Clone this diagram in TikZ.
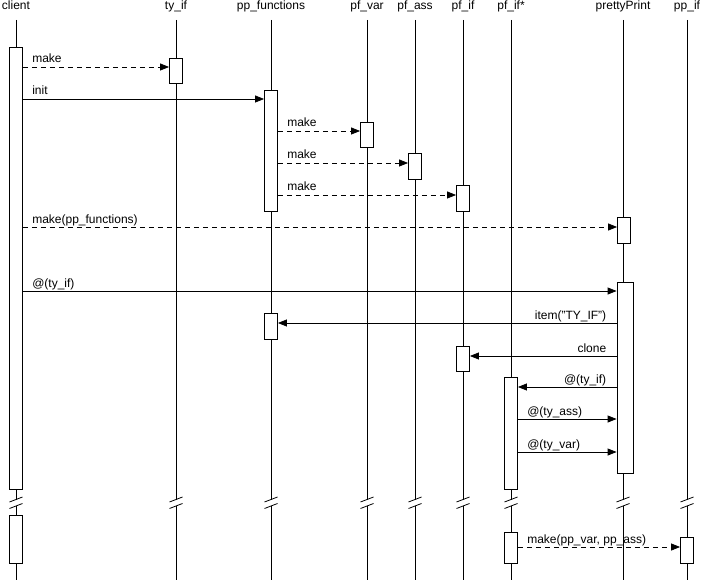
\documentclass[tikz,border=0pt]{standalone}
\usepackage{fontspec}
\setmainfont{Liberation Sans}
\usetikzlibrary{arrows.meta}
\begin{document}
\begin{tikzpicture}[x=1pt,y=-1pt,line width=.8pt,font=\fontsize{12}{14}\selectfont,
	act/.style={draw,fill=white,minimum width=13pt,inner sep=0pt,anchor=north},
	msg/.style={-{Triangle[length=9pt,width=7pt]}},
	async/.style={msg,dash pattern=on 5pt off 4pt},
	lbl/.style={pos=0,anchor=base west,xshift=9pt,yshift=4pt,inner sep=0pt},
	rlbl/.style={pos=0,anchor=base east,xshift=-10pt,yshift=4pt,inner sep=0pt}]
\useasboundingbox (0,0) rectangle (701,580);
% objects
\path[every node/.style={anchor=base,inner sep=0pt}]
	(16,9.5)node(client){client}
	(176,9.5)node(tyif){ty\_if}
	(271,9.5)node(ppfun){pp\_functions}
	(367,9.5)node(pfvar){pf\_var}
	(415,9.5)node(pfass){pf\_ass}
	(463,9.5)node(pfif){pf\_if}
	(511,9.5)node(pfifs){pf\_if*}
	(623,9.5)node(pretty){prettyPrint}
	(687,9.5)node(ppif){pp\_if};
% lifelines, broken near the bottom
\foreach \o in {client,tyif,ppfun,pfvar,pfass,pfif,pfifs,pretty,ppif}{
	\draw (\o|-0,20)--(\o|-0,499.5) (\o|-0,506)--(\o|-0,580);
	\draw (\o|-0,499.5)++(-6.5,2.5)--++(13,-5) (\o|-0,506)++(-6.5,2.5)--++(13,-5);
}
% activations
\node[act,minimum height=442pt](client1) at (16,47){};
\node[act,minimum height=48pt](client2) at (16,515){};
\node[act,minimum height=25pt](tyif1) at (176,58){};
\node[act,minimum height=121pt](ppfun1) at (271,90){};
\node[act,minimum height=26pt](ppfun2) at (271,313){};
\node[act,minimum height=25pt](pfvar1) at (367,122){};
\node[act,minimum height=26pt](pfass1) at (415,153){};
\node[act,minimum height=26pt](pfif1) at (463,185){};
\node[act,minimum height=25pt](pfif2) at (463,346){};
\node[act,minimum height=112pt](pfifs1) at (511,377){};
\node[act,minimum height=31pt](pfifs2) at (511,532){};
\node[act,minimum height=26pt](pretty1) at (624,217){};
\node[act,minimum height=191pt,minimum width=16pt](pretty2) at (625,282){};
\node[act,minimum height=26pt](ppif1) at (687,537){};
% messages
\draw[async] (client1.east|-0,67)--node[lbl]{make}(tyif1.west|-0,67);
\draw[msg] (client1.east|-0,99)--node[lbl]{init}(ppfun1.west|-0,99);
\draw[async] (ppfun1.east|-0,131)--node[lbl]{make}(pfvar1.west|-0,131);
\draw[async] (ppfun1.east|-0,163)--node[lbl]{make}(pfass1.west|-0,163);
\draw[async] (ppfun1.east|-0,195)--node[lbl]{make}(pfif1.west|-0,195);
\draw[async] (client1.east|-0,227)--node[lbl]{make(pp\_functions)}(pretty1.west|-0,227);
\draw[msg] (client1.east|-0,291)--node[lbl]{@(ty\_if)}(pretty2.west|-0,291);
\draw[msg] (pretty2.west|-0,323)--node[rlbl]{item("TY\_IF")}(ppfun2.east|-0,323);
\draw[msg] (pretty2.west|-0,356)--node[rlbl]{clone}(pfif2.east|-0,356);
\draw[msg] (pretty2.west|-0,387)--node[rlbl]{@(ty\_if)}(pfifs1.east|-0,387);
\draw[msg] (pfifs1.east|-0,419)--node[lbl]{@(ty\_ass)}(pretty2.west|-0,419);
\draw[msg] (pfifs1.east|-0,452)--node[lbl]{@(ty\_var)}(pretty2.west|-0,452);
\draw[async] (pfifs2.east|-0,547)--node[lbl]{make(pp\_var, pp\_ass)}(ppif1.west|-0,547);
\end{tikzpicture}
\end{document}
